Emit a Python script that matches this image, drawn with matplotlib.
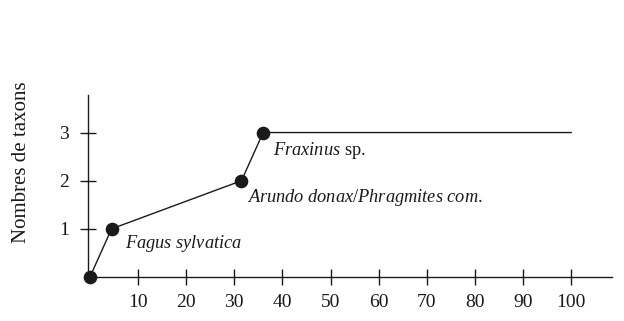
import matplotlib
matplotlib.use("Agg")
import matplotlib.pyplot as plt

# cumulative taxa curve
x_vals = [0, 4.5, 31.5, 36, 100]
y_vals = [0, 1, 2, 3, 3]
marked = [0, 1, 2, 3]  # indices that get a dot

x_ticks = [10, 20, 30, 40, 50, 60, 70, 80, 90, 100]
y_ticks = [1, 2, 3]
y_label = "Nombres de taxons"

plt.rcParams['font.family'] = ['Liberation Serif', 'DejaVu Serif']
plt.rcParams['mathtext.fontset'] = 'custom'
plt.rcParams['mathtext.it'] = 'Liberation Serif:italic'
plt.rcParams['mathtext.rm'] = 'Liberation Serif'

ink = "#1a1a1a"
fig = plt.figure(figsize=(6.24, 3.21), dpi=100)
# axes in pixel terms: origin at (90, 277) of a 624x321 canvas
ax = fig.add_axes([88 / 624, (321 - 277) / 321, (612 - 88) / 624, (277 - 95) / 321])

ax.plot(x_vals, y_vals, color=ink, lw=1.0, zorder=2)
ax.plot([x_vals[i] for i in marked], [y_vals[i] for i in marked], 'o',
        color=ink, ms=8.8, zorder=3, clip_on=False)

ax.set_xlim(-0.4, 108.5)
ax.set_ylim(0, 3.78)
for s in ["top", "right"]:
    ax.spines[s].set_visible(False)
for s in ["left", "bottom"]:
    ax.spines[s].set_color(ink)
    ax.spines[s].set_linewidth(1.0)

ax.set_xticks(x_ticks)
ax.set_yticks(y_ticks)
ax.tick_params(direction="inout", length=11, width=1.0, color=ink,
               labelsize=14, labelcolor=ink, pad=7)
ax.tick_params(axis="y", pad=8)
ax.set_ylabel(y_label, fontsize=15, color=ink)
ax.yaxis.set_label_coords(-0.108, 0.632)

notes = [
    (1, r"$\it{Fagus\ sylvatica}$", (13, -15)),
    (2, r"$\it{Arundo\ donax/Phragmites\ com.}$", (6, -17)),
    (3, r"$\it{Fraxinus}$ sp.", (10, -18)),
]
for i, txt, off in notes:
    ax.annotate(txt, (x_vals[i], y_vals[i]), xytext=off,
                textcoords="offset pixels", fontsize=13.2, color=ink,
                ha="left", va="center")

fig.savefig("out.png", dpi=100)
